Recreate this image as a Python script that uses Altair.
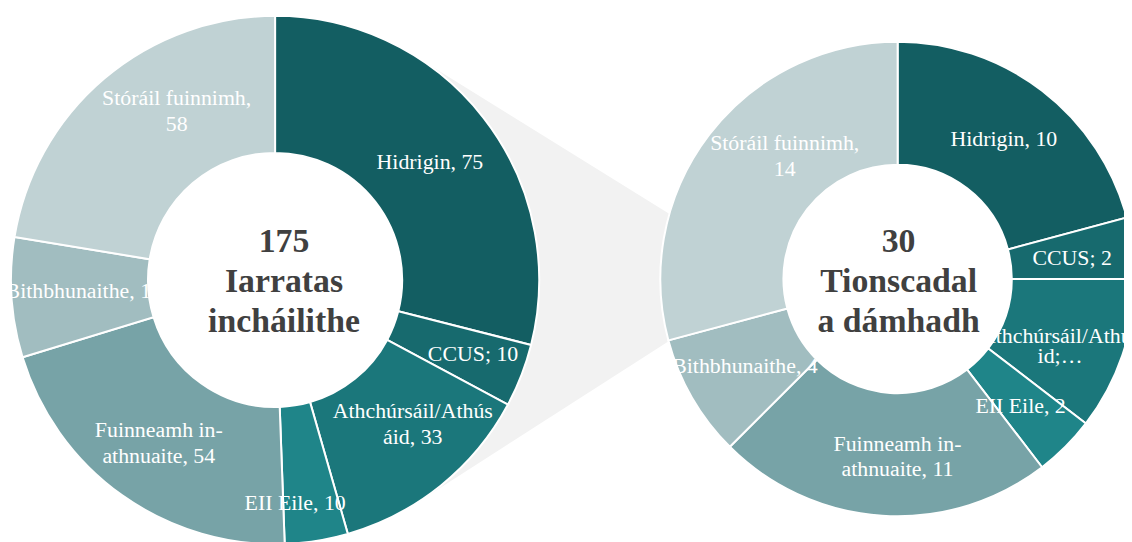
import math
import altair as alt
import pandas as pd

# ---------------- data ----------------
categories = [
    "Hidrigin",
    "CCUS",
    "Athchúrsáil/Athúsáid",
    "EII Eile",
    "Fuinneamh in-athnuaite",
    "Bithbhunaithe",
    "Stóráil fuinnimh",
]
applications = [75, 10, 33, 10, 54, 19, 58]   # eligible applications
awarded = [10, 2, 5, 2, 11, 4, 14]            # projects awarded

labels_left = [
    "Hidrigin, 75",
    "CCUS; 10",
    "Athchúrsáil/Athús\náid, 33",
    "EII Eile, 10",
    "Fuinneamh in-\nathnuaite, 54",
    "Bithbhunaithe, 19",
    "Stóráil fuinnimh,\n58",
]
labels_right = [
    "Hidrigin, 10",
    "CCUS; 2",
    "Athchúrsáil/Athús\nid;…",
    "EII Eile, 2",
    "Fuinneamh in-\nathnuaite, 11",
    "Bithbhunaithe, 4",
    "Stóráil fuinnimh,\n14",
]
center_left = ["175", "Iarratas", "incháilithe"]
center_right = ["30", "Tionscadal", "a dámhadh"]

palette = ["#135e62", "#176a6e", "#1b777b", "#1f8589", "#77a3a7", "#a1bdc0", "#c0d2d4"]

# ---------------- layout ----------------
W, H = 1124, 534
FONT = "Liberation Serif"
LEFT = dict(cx=269, cy=272, ro=266, ri=128, text_x=278, text_y=274)
RIGHT = dict(cx=896, cy=271, ro=239, ri=115, text_x=897, text_y=274)
# per-label (angle nudge in degrees, radius in px, line height)
left_label_pos = [(0.6, 196, 25), (-0.6, 213, 25), (-4.7, 201, 26), (3.9, 226, 25),
                  (0.0, 202, 26), (0.4, 193, 25), (10.1, 197, 26)]
right_label_pos = [(-0.3, 177, 25), (0.7, 177, 25), (3.7, 177, 21), (0.9, 178, 25),
                   (-3.7, 179, 25), (0.3, 177, 25), (9.9, 168, 26)]
# connector band: angles (deg, clockwise from top) of its corners on each ring
CONN_LEFT = (31.8, 147.0)
CONN_RIGHT = (285.9, 254.8)


def polar(c, r, deg):
    a = math.radians(deg)
    return c["cx"] + r * math.sin(a), c["cy"] - r * math.cos(a)


def donut(values, c):
    df = pd.DataFrame({"category": categories, "value": values,
                       "idx": list(range(len(values)))})
    return alt.Chart(df).mark_arc(
        radius=c["ro"], innerRadius=c["ri"], stroke="white", strokeWidth=2
    ).encode(
        theta=alt.Theta("value:Q", stack="normalize"),
        color=alt.Color("category:N", scale=alt.Scale(domain=categories, range=palette),
                        legend=None),
        order=alt.Order("idx:Q"),
        x=alt.value(c["cx"]),
        y=alt.value(c["cy"]),
    )


def label_rows(values, labels, c, pos):
    total = float(sum(values))
    start = 0.0
    rows = []
    for v, lab, (nudge, rr, lh) in zip(values, labels, pos):
        mid = (start + v / 2.0) / total * 360.0 + nudge
        ax, ay = polar(c, rr, mid)
        lines = lab.split("\n")
        n = len(lines)
        for i, line in enumerate(lines):
            rows.append({"text": line, "lx": ax, "ly": ay + (i - (n - 1) / 2.0) * lh})
        start += v
    return rows


def center_rows(lines, c, lh=40):
    n = len(lines)
    return [{"text": t, "lx": c["text_x"], "ly": c["text_y"] + (i - (n - 1) / 2.0) * lh}
            for i, t in enumerate(lines)]


# connector polygon (trapezoid with vertical sides hidden under the rings)
lu = polar(LEFT, LEFT["ro"], CONN_LEFT[0])
ll = polar(LEFT, LEFT["ro"], CONN_LEFT[1])
ru = polar(RIGHT, RIGHT["ro"], CONN_RIGHT[0])
rl = polar(RIGHT, RIGHT["ro"], CONN_RIGHT[1])


def line_y(p, q, x):
    return p[1] + (q[1] - p[1]) * (x - p[0]) / (q[0] - p[0])


x0 = (lu[0] + ll[0]) / 2.0
x1 = RIGHT["cx"] - RIGHT["ro"] + 30
conn_df = pd.DataFrame({
    "x": [x0, x1],
    "y": [line_y(lu, ru, x0), line_y(lu, ru, x1)],
    "y2": [line_y(ll, rl, x0), line_y(ll, rl, x1)],
})
connector = alt.Chart(conn_df).mark_area(color="#f2f2f2").encode(
    x=alt.X("x:Q", scale=None, axis=None),
    y=alt.Y("y:Q", scale=None, axis=None),
    y2="y2:Q",
)

lab_df = pd.DataFrame(label_rows(applications, labels_left, LEFT, left_label_pos)
                      + label_rows(awarded, labels_right, RIGHT, right_label_pos))
labels = alt.Chart(lab_df).mark_text(
    font=FONT, fontSize=22, color="white", align="center", baseline="middle"
).encode(
    x=alt.X("lx:Q", scale=None, axis=None),
    y=alt.Y("ly:Q", scale=None, axis=None),
    text="text:N",
)

cen_df = pd.DataFrame(center_rows(center_left, LEFT) + center_rows(center_right, RIGHT))
centers = alt.Chart(cen_df).mark_text(
    font=FONT, fontSize=34, fontWeight="bold", color="#404040",
    align="center", baseline="middle"
).encode(
    x=alt.X("lx:Q", scale=None, axis=None),
    y=alt.Y("ly:Q", scale=None, axis=None),
    text="text:N",
)

chart = alt.layer(
    connector, donut(applications, LEFT), donut(awarded, RIGHT), labels, centers
).properties(
    width=W, height=H, padding=0, autosize="none", background="white"
).configure_view(stroke=None)

chart.save("out.html", embed_options={"renderer": "svg", "actions": False})
